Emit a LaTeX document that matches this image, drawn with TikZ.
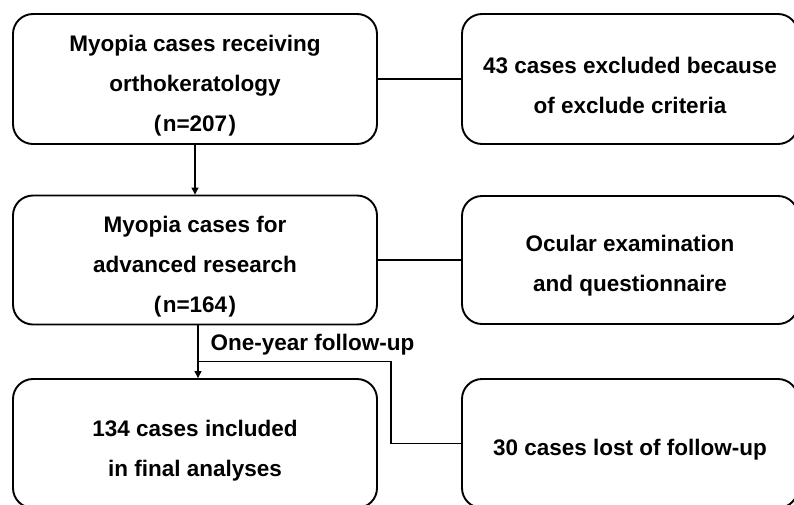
\documentclass[tikz,border=0pt]{standalone}
\usepackage{fontspec}
\setmainfont{Liberation Sans}
\usetikzlibrary{arrows.meta,calc}

\begin{document}
\begin{tikzpicture}[
    x=1pt, y=-1pt,
    >={Triangle[width=7pt,length=7pt]},
    box/.style={draw, line width=1.9pt, rounded corners=20pt, inner sep=0pt},
    txt/.style={align=center, font=\bfseries\fontsize{22.5}{40}\selectfont},
    link/.style={line width=1.2pt},
  ]

  \useasboundingbox (0,0) rectangle (794,504);

  % boxes: left column and right column
  \node[box, minimum width=364pt, minimum height=130pt] (rcv) at (195,79) {};
  \node[box, minimum width=336pt, minimum height=130pt] (exc) at (630,79) {};
  \node[box, minimum width=364pt, minimum height=129pt] (adv) at (195,260) {};
  \node[box, minimum width=336pt, minimum height=128pt] (ocu) at (630,260) {};
  \node[box, minimum width=364pt, minimum height=129pt] (fin) at (195,443.5) {};
  \node[box, minimum width=336pt, minimum height=129pt] (lost) at (630,443.5) {};

  % box texts sit a little below the centres
  \node[txt] (rcvT) at ([yshift=-7pt]rcv.center)
    {Myopia cases receiving\\orthokeratology\\(\kern1.5pt n=207\kern1.5pt)};
  \node[txt] (excT) at ([yshift=-6pt]exc.center)
    {43 cases excluded because\\of exclude criteria};
  \node[txt] (advT) at ([yshift=-7pt]adv.center)
    {Myopia cases for\\advanced research\\(\kern1.5pt n=164\kern1.5pt)};
  \node[txt] (ocuT) at ([yshift=-6pt]ocu.center)
    {Ocular examination\\and questionnaire};
  \node[txt] (finT) at ([yshift=-7pt]fin.center)
    {134 cases included\\in final analyses};
  \node[txt] (lostT) at ([yshift=-6pt]lost.center)
    {30 cases lost of follow-up};

  % connectors
  \draw[link] (rcv.east) -- (exc.west);
  \draw[link] (adv.east) -- (ocu.west);
  \draw[link, ->] (rcv.south) -- (adv.north);
  \draw[link, ->] ([xshift=3pt]adv.south) -- ([xshift=3pt]fin.north);

  % branch to the lost cases
  \coordinate (fork) at ($([xshift=3pt]adv.south)!0.68!([xshift=3pt]fin.north)$);
  \draw[link] (fork) -- ++(193,0) |- (lost.west);
  \node[txt, anchor=base west] (fup) at (207,350) {One-year follow-up};

\end{tikzpicture}
\end{document}
